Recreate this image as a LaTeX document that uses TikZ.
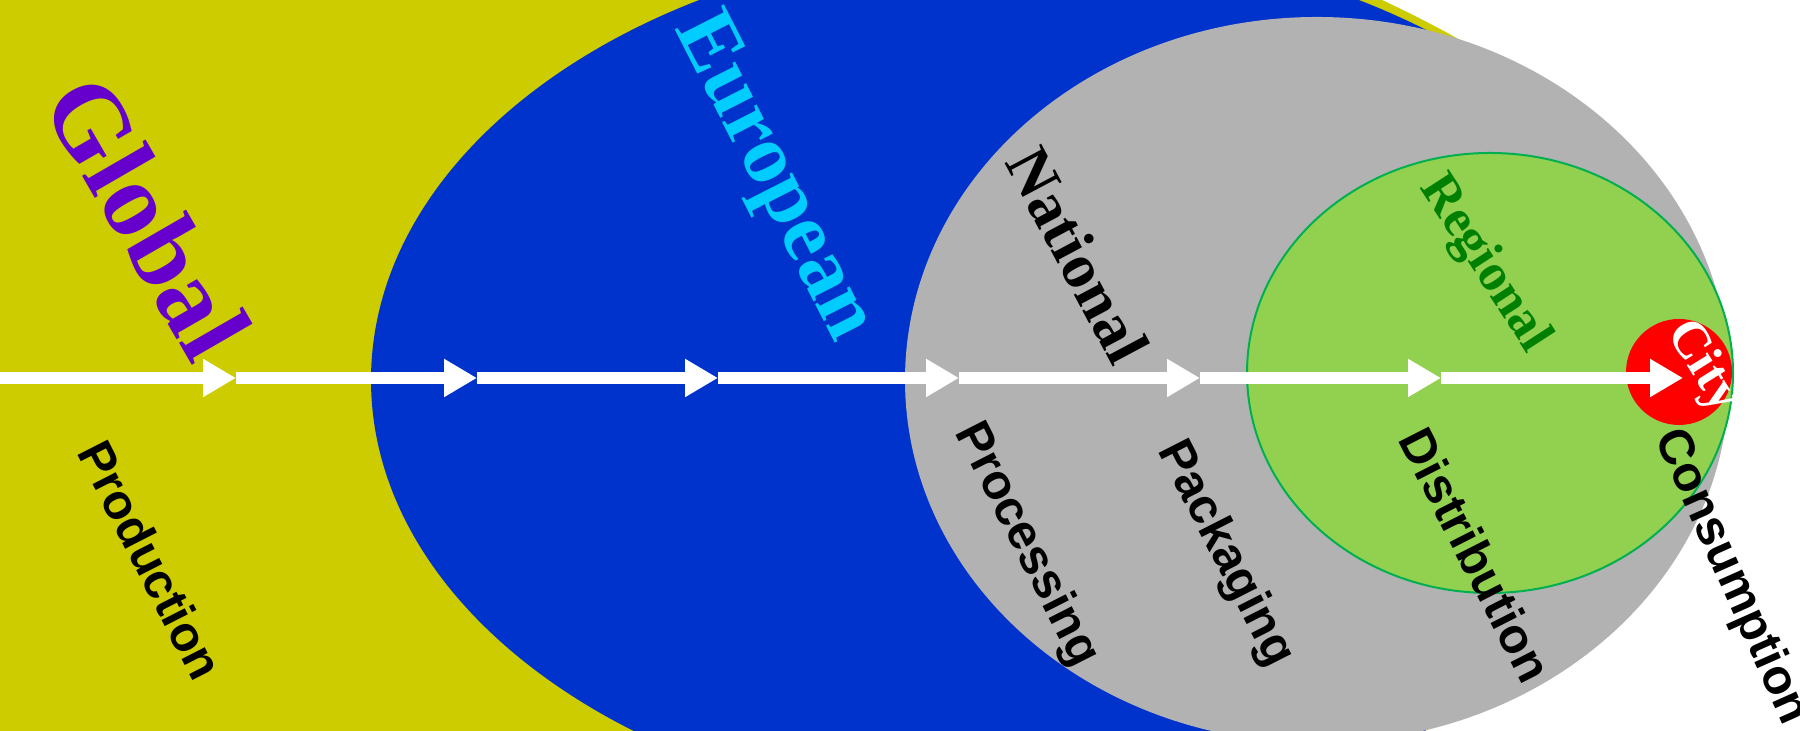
\documentclass[tikz,border=0pt]{standalone}
\usepackage{fontspec}
\setmainfont{Liberation Serif}
\setsansfont{Liberation Sans}
\usepackage{tikz}
\usetikzlibrary{arrows.meta}
\definecolor{fondoGlobal}{HTML}{CCCC00}
\definecolor{fondoEuropa}{HTML}{0033CC}
\definecolor{fondoNacion}{HTML}{B2B2B2}
\definecolor{fondoRegion}{HTML}{92D050}
\definecolor{bordeRegion}{HTML}{00B050}
\definecolor{fondoCiudad}{HTML}{FF0000}
\definecolor{textoGlobal}{HTML}{6600CC}
\definecolor{textoEuropa}{HTML}{00CCFF}
\definecolor{textoRegion}{HTML}{008000}

\begin{document}
\begin{tikzpicture}[
  x=0.1mm, y=0.1mm,
  nivel/.style={inner sep=0pt, font=\bfseries\fontsize{#1}{#1}\selectfont},
  etapa/.style={inner sep=0pt, rotate=-63,
                font=\sffamily\bfseries\fontsize{14}{16}\selectfont},
  flujo/.style={-{Triangle[length=3.3mm, width=3.6mm]}, draw=white, line width=1.2mm}
]
\useasboundingbox (0,0) rectangle (1800,731);
\clip (0,0) rectangle (1800,731);

% Scales nested from the widest one down to the city.
\fill[fondoGlobal] (400,355) ellipse [x radius=1325, y radius=560];
\fill[fondoEuropa] (1029,351) ellipse [x radius=658, y radius=439];
\fill[fondoNacion] (1317,351) ellipse [x radius=412, y radius=363];
\filldraw[fill=fondoRegion, draw=bordeRegion, line width=0.2mm]
  (1490,358) ellipse [x radius=243, y radius=220];
\fill[fondoCiudad] (1679,359) circle [radius=53];

\node[nivel=30, text=textoGlobal, rotate=-60] (glob) at (148,514) {Global};
\node[nivel=24, text=textoEuropa, rotate=-63] (eur) at (772,553) {European};
\node[nivel=18, rotate=-62] (nac) at (1078,476) {National};
\node[nivel=15, text=textoRegion, rotate=-57] (reg) at (1484,467) {Regional};
\node[nivel=15, text=white, rotate=-58] (ciu) at (1703,364) {City};

% Stages of the chain, under the flow line.
\node[etapa] (prod) at (151,171) {Production};
\node[etapa] (proc) at (1026,186) {Processing};
\node[etapa] (emb)  at (1225,177) {Packaging};
\node[etapa] (dist) at (1476,176) {Distribution};
\node[etapa, rotate=-3] (cons) at (1731,154) {Consumption};

\coordinate (p0) at (0,353);
\coordinate (p1) at (236,353);
\coordinate (p2) at (477,353);
\coordinate (p3) at (718,353);
\coordinate (p4) at (959,353);
\coordinate (p5) at (1200,353);
\coordinate (p6) at (1441,353);
\coordinate (p7) at (1683,353);

\draw[flujo] (p0) -- (p1);
\draw[flujo] (p1) -- (p2);
\draw[flujo] (p2) -- (p3);
\draw[flujo] (p3) -- (p4);
\draw[flujo] (p4) -- (p5);
\draw[flujo] (p5) -- (p6);
\draw[flujo] (p6) -- (p7);

\end{tikzpicture}
\end{document}
